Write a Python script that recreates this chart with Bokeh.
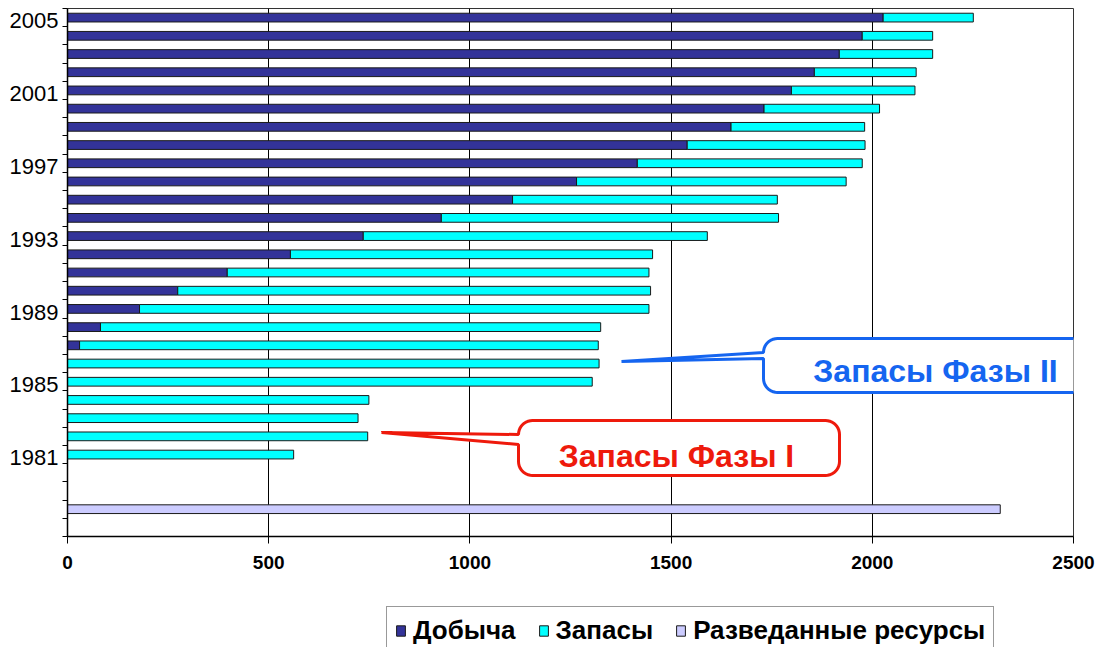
import math
from bokeh.plotting import figure
from bokeh.layouts import column
from bokeh.models import (Range1d, FixedTicker, CustomJSTickFormatter, Legend, LegendItem,
                          PolyAnnotation, Label, ColumnDataSource)
from bokeh.embed import file_html
from bokeh.resources import INLINE

# ---------------- data ----------------
years = list(range(2005, 1980, -1))
production = [2027, 1975, 1918, 1856, 1799, 1731, 1649, 1540, 1416, 1265, 1106, 929, 735,
              554, 397, 274, 179, 82, 30, 0, 0, 0, 0, 0, 0]
reserves = [224, 175, 232, 253, 307, 287, 332, 442, 559, 670, 658, 838, 855,
            900, 1048, 1175, 1266, 1243, 1289, 1321, 1304, 749, 722, 746, 562]
resources = [2318]
rows = [str(y) for y in years] + ["", "", "Разведанные ресурсы", ""]
label_years = [2005, 2001, 1997, 1993, 1989, 1985, 1981]
x_ticks = [0, 500, 1000, 1500, 2000, 2500]
series_names = ["Добыча", "Запасы", "Разведанные ресурсы"]
series_colors = ["#333399", "#00FFFF", "#CCCCFF"]
callout_texts = ["Запасы Фазы II", "Запасы Фазы I"]

# ---------------- layout ----------------
FONT = "Liberation Sans"
FW, FH = 1006, 528
FL, FT = 67, 8                      # frame left / top in page pixels
BOTTOM = 50                         # space below frame for the x axis
X0, X1 = 0, 2500
top_row = years[0]
n_rows = len(rows)
Y1 = top_row + 0.5
Y0 = Y1 - n_rows
DX = (X1 - X0) / FW       # data per px (x)
DY = (Y1 - Y0) / FH       # data per px (y)

def row_y(i):
    return top_row - i

src = ColumnDataSource(dict(
    y=[row_y(i) for i in range(len(years))],
    prod=production,
    total=[a + b for a, b in zip(production, reserves)],
))
res_src = ColumnDataSource(dict(
    y=[row_y(rows.index("Разведанные ресурсы"))],
    val=resources,
))

p = figure(frame_width=FW, frame_height=FH,
           x_range=Range1d(X0, X1), y_range=Range1d(Y0, Y1),
           output_backend="svg", toolbar_location=None,
           min_border_left=FL, min_border_right=32, min_border_top=FT, min_border_bottom=BOTTOM,
           background_fill_color="white", border_fill_color="white")

BAR_H = 0.48
bar_style = dict(line_color="#1a1a1a", line_width=1)
bar_specs = [dict(left=0, right="prod", source=src),
             dict(left="prod", right="total", source=src),
             dict(left=0, right="val", source=res_src)]
for spec, c in zip(bar_specs, series_colors):
    p.hbar(y="y", height=BAR_H, fill_color=c, **spec, **bar_style)

# axes
p.outline_line_color = "#333333"
p.outline_line_width = 1

xa = p.xaxis[0]
xa.ticker = FixedTicker(ticks=x_ticks, minor_ticks=[])
xa.major_label_text_font = FONT
xa.major_label_text_font_style = "bold"
xa.major_label_text_font_size = "19px"
xa.major_label_text_color = "black"
xa.major_tick_out = 7
xa.major_tick_in = 0
xa.major_tick_line_color = "black"
xa.minor_tick_line_color = None
xa.axis_line_color = "black"
xa.axis_line_width = 1.5
xa.major_label_standoff = 12

ya = p.yaxis[0]
ya.ticker = FixedTicker(ticks=[y - 0.17 for y in label_years],
                        minor_ticks=[Y0 + k for k in range(n_rows + 1)])
ya.formatter = CustomJSTickFormatter(code="return Math.round(tick).toString();")
ya.major_tick_out = 0
ya.major_tick_in = 0
ya.minor_tick_out = 5
ya.minor_tick_in = 0
ya.minor_tick_line_color = "black"
ya.axis_line_color = "black"
ya.axis_line_width = 1.5
ya.major_label_text_font = FONT
ya.major_label_text_font_size = "22px"
ya.major_label_text_color = "black"
ya.major_label_standoff = 4

p.xgrid.ticker = FixedTicker(ticks=x_ticks)
p.xgrid.grid_line_color = "black"
p.xgrid.grid_line_width = 1
p.ygrid.visible = False

# callouts
def callout(x0, x1, y_top, y_bot, tip, base_top, base_bot, r_px=14, n=10):
    rx, ry = r_px * DX, r_px * DY
    base_top = min(base_top, y_top - ry)
    xs, ys = [tip[0], x0], [tip[1], base_top]
    def arc(cx, cy, a0, a1):
        for k in range(n + 1):
            a = math.radians(a0 + (a1 - a0) * k / n)
            xs.append(cx + rx * math.cos(a))
            ys.append(cy + ry * math.sin(a))
    arc(x0 + rx, y_top - ry, 180, 90)
    arc(x1 - rx, y_top - ry, 90, 0)
    arc(x1 - rx, y_bot + ry, 0, -90)
    arc(x0 + rx, y_bot + ry, -90, -180)
    xs.append(x0); ys.append(base_bot)
    return xs, ys

def px_x(px):
    return X0 + (px - FL) * DX

def px_y(py):
    return Y1 - (py - FT) * DY

BLUE = "#1565F0"
RED = "#EE1A0C"

bx, by = callout(px_x(763), px_x(1125), px_y(338), px_y(392),
                 (px_x(621), px_y(361)), px_y(345), px_y(358))
p.add_layout(PolyAnnotation(xs=bx, ys=by, fill_color="white", fill_alpha=1,
                            line_color=BLUE, line_alpha=1, line_width=3))
rx_, ry_ = callout(px_x(518), px_x(839), px_y(420), px_y(475),
                   (px_x(381), px_y(432)), px_y(430), px_y(444))
p.add_layout(PolyAnnotation(xs=rx_, ys=ry_, fill_color="white", fill_alpha=1,
                            line_color=RED, line_alpha=1, line_width=3))

p.add_layout(Label(x=px_x(935), y=px_y(370.5), text=callout_texts[0],
                   text_align="center", text_baseline="middle",
                   text_font=FONT, text_font_style="bold", text_font_size="32px",
                   text_color=BLUE))
p.add_layout(Label(x=px_x(676), y=px_y(455), text=callout_texts[1],
                   text_align="center", text_baseline="middle",
                   text_font=FONT, text_font_style="bold", text_font_size="32px",
                   text_color=RED))

# ---------------- legend strip (second figure below the chart) ----------------
TOTAL_W = FL + FW + 32
TOP_H = FT + FH + BOTTOM
LEG_H = 647 - TOP_H
# the strip's ranges lie just beside the data, so the series it re-draws stay out of view
q = figure(width=TOTAL_W, height=LEG_H,
           x_range=Range1d(X0 - 200, X0 - 100), y_range=Range1d(Y1 + 5, Y1 + 6),
           output_backend="svg", toolbar_location=None,
           x_axis_location=None, y_axis_location=None,
           min_border=0, background_fill_color="white", border_fill_color="white",
           outline_line_color=None)
q.xgrid.visible = False
q.ygrid.visible = False
# same series drawn again (out of this strip's view) only to supply legend glyphs
leg_renderers = [q.hbar(y="y", height=BAR_H, fill_color=c, **spec, **bar_style)
                 for spec, c in zip(bar_specs, series_colors)]
legend = Legend(items=[LegendItem(label=n, renderers=[r])
                       for n, r in zip(series_names, leg_renderers)],
                orientation="horizontal", location=(319, -8),
                label_text_font=FONT, label_text_font_style="bold",
                label_text_font_size="26px", label_text_color="black",
                glyph_width=11, glyph_height=13, label_standoff=7, spacing=22,
                padding=8, margin=0,
                border_line_color="#333333", border_line_width=1.5,
                background_fill_color="white", background_fill_alpha=1)
q.add_layout(legend)

open("out.html", "w").write(file_html(column(p, q, spacing=0), INLINE))
